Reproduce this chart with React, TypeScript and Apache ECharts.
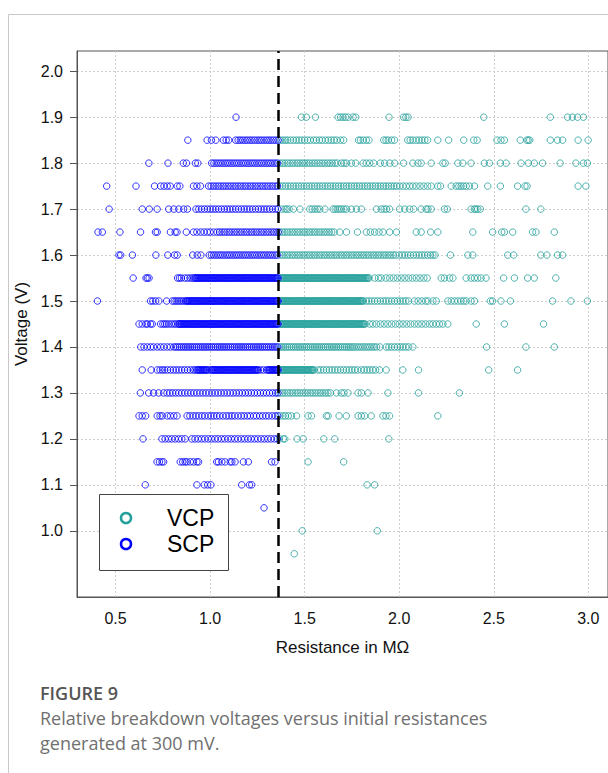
import React, { useEffect, useRef } from "react";
import * as echarts from "echarts";

// ---------- tick labels / constants ----------
const xTicks = [0.5, 1.0, 1.5, 2.0, 2.5, 3.0];
const yTicks = [1.0, 1.1, 1.2, 1.3, 1.4, 1.5, 1.6, 1.7, 1.8, 1.9, 2.0];
const threshold = 1.36;
const seriesNames = ["VCP", "SCP"];
const xTitle = "Resistance in MΩ";
const yTitle = "Voltage (V)";
const captionTitle = "FIGURE 9";
const captionLines = [
  "Relative breakdown voltages versus initial resistances",
  "generated at 300 mV.",
];

// ---------- SCP (blue) resistances per voltage level ----------
const scp190 = [1.137];
const scp185 = [0.882, 0.984, 1.007, 1.03, 1.07, 1.085, 1.098, 1.135, 1.148, 1.16, 1.172, 1.185, 1.197, 1.21, 1.222, 1.235, 1.248, 1.26, 1.272, 1.285, 1.298, 1.31, 1.322, 1.335, 1.348, 1.36];
const scp180 = [0.676, 0.777, 0.858, 0.875, 0.922, 0.935, 1.008, 1.02, 1.032, 1.044, 1.056, 1.068, 1.08, 1.092, 1.104, 1.116, 1.128, 1.14, 1.152, 1.164, 1.176, 1.188, 1.2, 1.212, 1.224, 1.236, 1.248, 1.26, 1.272, 1.284, 1.296, 1.308, 1.32, 1.332, 1.344, 1.356];
const scp175 = [0.453, 0.608, 0.706, 0.738, 0.756, 0.773, 0.789, 0.826, 0.84, 0.912, 0.93, 0.949, 0.992, 1.005, 1.018, 1.031, 1.044, 1.057, 1.07, 1.083, 1.096, 1.109, 1.122, 1.135, 1.148, 1.161, 1.174, 1.187, 1.2, 1.213, 1.226, 1.239, 1.252, 1.265, 1.278, 1.291, 1.304, 1.317, 1.33, 1.343, 1.356];
const scp170 = [0.466, 0.641, 0.678, 0.72, 0.781, 0.808, 0.834, 0.86, 0.88, 0.925, 0.94, 0.955, 0.97, 0.985, 1.0, 1.015, 1.03, 1.045, 1.06, 1.075, 1.09, 1.105, 1.12, 1.135, 1.15, 1.165, 1.18, 1.195, 1.21, 1.225, 1.24, 1.255, 1.27, 1.285, 1.3, 1.315, 1.33, 1.345, 1.358];
const scp165 = [0.407, 0.43, 0.523, 0.632, 0.711, 0.72, 0.79, 0.815, 0.825, 0.874, 0.912, 0.93, 0.95, 0.968, 0.985, 1.0, 1.019, 1.037, 1.05, 1.063, 1.076, 1.089, 1.102, 1.115, 1.128, 1.141, 1.154, 1.167, 1.18, 1.193, 1.206, 1.219, 1.232, 1.245, 1.258, 1.271, 1.284, 1.297, 1.31, 1.323, 1.336, 1.349, 1.36];
const scp160 = [0.518, 0.527, 0.589, 0.713, 0.776, 0.812, 0.826, 0.908, 0.932, 0.951, 0.995, 1.007, 1.019, 1.031, 1.043, 1.055, 1.067, 1.079, 1.091, 1.103, 1.115, 1.127, 1.139, 1.151, 1.163, 1.175, 1.187, 1.199, 1.211, 1.223, 1.235, 1.247, 1.259, 1.271, 1.283, 1.295, 1.307, 1.319, 1.331, 1.343, 1.355];
const scp155 = [0.593, 0.661, 0.668, 0.677, 0.828, 0.838, 0.848, 0.866, 0.88, 0.893, 0.905, 0.915, 0.92, 0.925, 0.93, 0.935, 0.94, 0.945, 0.95, 0.955, 0.96, 0.965, 0.97, 0.975, 0.98, 0.985, 0.99, 0.995, 1.0, 1.005, 1.01, 1.015, 1.02, 1.025, 1.03, 1.035, 1.04, 1.045, 1.05, 1.055, 1.06, 1.065, 1.07, 1.075, 1.08, 1.085, 1.09, 1.095, 1.1, 1.105, 1.11, 1.115, 1.12, 1.125, 1.13, 1.135, 1.14, 1.145, 1.15, 1.155, 1.16, 1.165, 1.17, 1.175, 1.18, 1.185, 1.19, 1.195, 1.2, 1.205, 1.21, 1.215, 1.22, 1.225, 1.23, 1.235, 1.24, 1.245, 1.25, 1.255, 1.26, 1.265, 1.27, 1.275, 1.28, 1.285, 1.29, 1.295, 1.3, 1.305, 1.31, 1.315, 1.32, 1.325, 1.33, 1.335, 1.34, 1.345, 1.35, 1.355, 1.36];
const scp150 = [0.404, 0.685, 0.697, 0.712, 0.729, 0.77, 0.8, 0.81, 0.82, 0.83, 0.84, 0.85, 0.86, 0.87, 0.875, 0.88, 0.885, 0.89, 0.895, 0.9, 0.905, 0.91, 0.915, 0.92, 0.925, 0.93, 0.935, 0.94, 0.945, 0.95, 0.955, 0.96, 0.965, 0.97, 0.975, 0.98, 0.985, 0.99, 0.995, 1.0, 1.005, 1.01, 1.015, 1.02, 1.025, 1.03, 1.035, 1.04, 1.045, 1.05, 1.055, 1.06, 1.065, 1.07, 1.075, 1.08, 1.085, 1.09, 1.095, 1.1, 1.105, 1.11, 1.115, 1.12, 1.125, 1.13, 1.135, 1.14, 1.145, 1.15, 1.155, 1.16, 1.165, 1.17, 1.175, 1.18, 1.185, 1.19, 1.195, 1.2, 1.205, 1.21, 1.215, 1.22, 1.225, 1.23, 1.235, 1.24, 1.245, 1.25, 1.255, 1.26, 1.265, 1.27, 1.275, 1.28, 1.285, 1.29, 1.295, 1.3, 1.305, 1.31, 1.315, 1.32, 1.325, 1.33, 1.335, 1.34, 1.345, 1.35, 1.355, 1.36];
const scp145 = [0.624, 0.641, 0.66, 0.668, 0.685, 0.694, 0.738, 0.75, 0.76, 0.77, 0.782, 0.795, 0.808, 0.818, 0.83, 0.835, 0.84, 0.845, 0.85, 0.855, 0.86, 0.865, 0.87, 0.875, 0.88, 0.885, 0.89, 0.895, 0.9, 0.905, 0.91, 0.915, 0.92, 0.925, 0.93, 0.935, 0.94, 0.945, 0.95, 0.955, 0.96, 0.965, 0.97, 0.975, 0.98, 0.985, 0.99, 0.995, 1.0, 1.005, 1.01, 1.015, 1.02, 1.025, 1.03, 1.035, 1.04, 1.045, 1.05, 1.055, 1.06, 1.065, 1.07, 1.075, 1.08, 1.085, 1.09, 1.095, 1.1, 1.105, 1.11, 1.115, 1.12, 1.125, 1.13, 1.135, 1.14, 1.145, 1.15, 1.155, 1.16, 1.165, 1.17, 1.175, 1.18, 1.185, 1.19, 1.195, 1.2, 1.205, 1.21, 1.215, 1.22, 1.225, 1.23, 1.235, 1.24, 1.245, 1.25, 1.255, 1.26, 1.265, 1.27, 1.275, 1.28, 1.285, 1.29, 1.295, 1.3, 1.305, 1.31, 1.315, 1.32, 1.325, 1.33, 1.335, 1.34, 1.345, 1.35, 1.355, 1.36];
const scp140 = [0.633, 0.65, 0.668, 0.685, 0.7, 0.72, 0.738, 0.755, 0.773, 0.79, 0.808, 0.818, 0.828, 0.838, 0.848, 0.858, 0.868, 0.878, 0.888, 0.898, 0.908, 0.918, 0.928, 0.938, 0.948, 0.958, 0.968, 0.978, 0.988, 0.998, 1.008, 1.018, 1.028, 1.038, 1.048, 1.058, 1.068, 1.078, 1.088, 1.098, 1.108, 1.118, 1.128, 1.138, 1.148, 1.158, 1.168, 1.178, 1.188, 1.198, 1.208, 1.218, 1.228, 1.238, 1.248, 1.258, 1.268, 1.278, 1.288, 1.298, 1.308, 1.318, 1.328, 1.338, 1.348, 1.358];
const scp135 = [0.641, 0.688, 0.72, 0.735, 0.748, 0.76, 0.775, 0.79, 0.805, 0.82, 0.835, 0.85, 0.865, 0.88, 0.895, 0.91, 0.92, 0.93, 0.935, 0.94, 0.945, 0.95, 0.955, 0.96, 0.965, 0.97, 0.975, 0.98, 0.985, 0.995, 1.005, 1.01, 1.015, 1.02, 1.025, 1.03, 1.035, 1.04, 1.045, 1.05, 1.055, 1.06, 1.065, 1.07, 1.075, 1.08, 1.085, 1.09, 1.095, 1.1, 1.105, 1.11, 1.115, 1.12, 1.125, 1.13, 1.135, 1.14, 1.145, 1.15, 1.155, 1.16, 1.165, 1.17, 1.175, 1.18, 1.185, 1.19, 1.195, 1.2, 1.205, 1.21, 1.215, 1.22, 1.225, 1.23, 1.235, 1.24, 1.245, 1.25, 1.255, 1.268, 1.283, 1.298, 1.305, 1.31, 1.315, 1.32, 1.325, 1.33, 1.335, 1.34, 1.345, 1.35, 1.355, 1.36];
const scp130 = [0.631, 0.675, 0.701, 0.728, 0.754, 0.772, 0.787, 0.802, 0.818, 0.834, 0.85, 0.866, 0.882, 0.898, 0.914, 0.93, 0.946, 0.962, 0.978, 0.994, 1.01, 1.026, 1.042, 1.058, 1.074, 1.09, 1.106, 1.122, 1.138, 1.154, 1.17, 1.186, 1.202, 1.218, 1.234, 1.25, 1.266, 1.282, 1.298, 1.314, 1.33, 1.346, 1.358];
const scp125 = [0.624, 0.641, 0.659, 0.72, 0.735, 0.747, 0.773, 0.79, 0.808, 0.825, 0.878, 0.893, 0.91, 0.925, 0.94, 0.957, 0.972, 0.99, 1.005, 1.02, 1.035, 1.05, 1.068, 1.085, 1.1, 1.115, 1.13, 1.148, 1.165, 1.18, 1.197, 1.212, 1.23, 1.245, 1.262, 1.278, 1.295, 1.31, 1.328, 1.345, 1.358];
const scp120 = [0.645, 0.745, 0.762, 0.78, 0.797, 0.815, 0.833, 0.85, 0.868, 0.903, 0.92, 0.937, 0.955, 0.972, 0.99, 1.007, 1.025, 1.042, 1.06, 1.077, 1.095, 1.112, 1.13, 1.147, 1.165, 1.182, 1.2, 1.217, 1.235, 1.252, 1.27, 1.287, 1.305, 1.322, 1.34, 1.355];
const scp115 = [0.719, 0.732, 0.745, 0.754, 0.842, 0.855, 0.868, 0.877, 0.895, 0.912, 0.93, 0.939, 1.035, 1.044, 1.062, 1.08, 1.106, 1.115, 1.132, 1.176, 1.202, 1.325, 1.343];
const scp110 = [0.657, 0.93, 0.969, 0.987, 1.004, 1.167, 1.208, 1.22];
const scp105 = [1.285];

// ---------- VCP (teal) resistances per voltage level ----------
const vcp190 = [1.483, 1.509, 1.557, 1.677, 1.69, 1.703, 1.716, 1.73, 1.756, 1.77, 1.946, 2.023, 2.035, 2.047, 2.447, 2.799, 2.89, 2.916, 2.943, 2.974];
const vcp185 = [1.372, 1.385, 1.398, 1.41, 1.425, 1.44, 1.455, 1.47, 1.485, 1.5, 1.515, 1.53, 1.548, 1.562, 1.578, 1.592, 1.61, 1.625, 1.64, 1.655, 1.67, 1.69, 1.706, 1.785, 1.795, 1.81, 1.826, 1.84, 1.918, 1.93, 1.942, 1.96, 1.975, 2.045, 2.058, 2.072, 2.09, 2.105, 2.12, 2.135, 2.15, 2.204, 2.261, 2.341, 2.394, 2.412, 2.517, 2.538, 2.556, 2.64, 2.675, 2.682, 2.69, 2.799, 2.837, 2.864, 2.946, 2.999];
const vcp180 = [1.37, 1.383, 1.396, 1.41, 1.423, 1.436, 1.449, 1.462, 1.475, 1.488, 1.5, 1.513, 1.526, 1.54, 1.553, 1.566, 1.58, 1.593, 1.606, 1.62, 1.633, 1.646, 1.66, 1.672, 1.694, 1.708, 1.721, 1.747, 1.77, 1.809, 1.826, 1.844, 1.865, 1.9, 1.923, 1.95, 1.976, 2.023, 2.072, 2.099, 2.116, 2.169, 2.231, 2.243, 2.31, 2.336, 2.38, 2.45, 2.477, 2.535, 2.565, 2.644, 2.683, 2.714, 2.758, 2.851, 2.934, 2.974, 2.995];
const vcp175 = [1.37, 1.384, 1.398, 1.412, 1.426, 1.44, 1.454, 1.468, 1.482, 1.496, 1.51, 1.524, 1.538, 1.552, 1.566, 1.58, 1.594, 1.608, 1.622, 1.636, 1.65, 1.664, 1.678, 1.692, 1.706, 1.72, 1.734, 1.748, 1.762, 1.776, 1.79, 1.804, 1.818, 1.832, 1.846, 1.86, 1.874, 1.888, 1.902, 1.916, 1.93, 1.944, 1.958, 1.972, 1.986, 2.002, 2.02, 2.037, 2.055, 2.072, 2.09, 2.11, 2.13, 2.15, 2.169, 2.204, 2.218, 2.275, 2.301, 2.315, 2.327, 2.34, 2.354, 2.371, 2.398, 2.468, 2.535, 2.626, 2.665, 2.676, 2.946, 2.987];
const vcp170 = [1.378, 1.396, 1.405, 1.418, 1.44, 1.475, 1.527, 1.54, 1.554, 1.567, 1.58, 1.607, 1.65, 1.661, 1.672, 1.683, 1.694, 1.708, 1.721, 1.747, 1.774, 1.8, 1.879, 1.905, 1.92, 1.932, 1.949, 2.002, 2.029, 2.055, 2.076, 2.116, 2.143, 2.152, 2.169, 2.239, 2.254, 2.38, 2.398, 2.405, 2.415, 2.429, 2.67, 2.749];
const vcp165 = [1.37, 1.383, 1.396, 1.409, 1.422, 1.435, 1.448, 1.461, 1.474, 1.487, 1.5, 1.513, 1.526, 1.539, 1.552, 1.565, 1.578, 1.591, 1.604, 1.617, 1.63, 1.643, 1.656, 1.686, 1.721, 1.779, 1.826, 1.847, 1.87, 1.893, 1.914, 1.949, 1.985, 2.09, 2.116, 2.166, 2.204, 2.389, 2.494, 2.542, 2.556, 2.6, 2.705, 2.723, 2.82];
const vcp160 = [1.37, 1.383, 1.396, 1.409, 1.422, 1.435, 1.448, 1.461, 1.474, 1.487, 1.5, 1.513, 1.526, 1.539, 1.552, 1.565, 1.578, 1.591, 1.604, 1.617, 1.63, 1.643, 1.656, 1.669, 1.682, 1.695, 1.708, 1.721, 1.734, 1.747, 1.76, 1.773, 1.786, 1.799, 1.812, 1.825, 1.838, 1.851, 1.864, 1.877, 1.89, 1.903, 1.916, 1.929, 1.942, 1.955, 1.968, 1.981, 2.0, 2.016, 2.03, 2.046, 2.06, 2.075, 2.09, 2.105, 2.12, 2.135, 2.15, 2.165, 2.178, 2.19, 2.271, 2.363, 2.389, 2.574, 2.605, 2.749, 2.781, 2.837, 2.864];
const vcp155 = [1.37, 1.375, 1.38, 1.385, 1.39, 1.395, 1.4, 1.405, 1.41, 1.415, 1.42, 1.425, 1.43, 1.435, 1.44, 1.445, 1.45, 1.455, 1.46, 1.465, 1.47, 1.475, 1.48, 1.485, 1.49, 1.495, 1.5, 1.505, 1.51, 1.515, 1.52, 1.525, 1.53, 1.535, 1.54, 1.545, 1.55, 1.555, 1.56, 1.565, 1.57, 1.575, 1.58, 1.585, 1.59, 1.595, 1.6, 1.605, 1.61, 1.615, 1.62, 1.625, 1.63, 1.635, 1.64, 1.645, 1.65, 1.655, 1.66, 1.665, 1.67, 1.675, 1.68, 1.685, 1.69, 1.695, 1.7, 1.705, 1.71, 1.715, 1.72, 1.725, 1.73, 1.735, 1.74, 1.745, 1.75, 1.755, 1.76, 1.765, 1.77, 1.775, 1.78, 1.785, 1.79, 1.795, 1.8, 1.805, 1.81, 1.815, 1.82, 1.825, 1.83, 1.835, 1.84, 1.87, 1.89, 1.905, 1.93, 1.95, 1.97, 1.99, 2.01, 2.03, 2.05, 2.07, 2.09, 2.11, 2.13, 2.148, 2.222, 2.239, 2.266, 2.284, 2.354, 2.38, 2.398, 2.415, 2.433, 2.459, 2.552, 2.609, 2.679, 2.714, 2.828];
const vcp150 = [1.37, 1.375, 1.38, 1.385, 1.39, 1.395, 1.4, 1.405, 1.41, 1.415, 1.42, 1.425, 1.43, 1.435, 1.44, 1.445, 1.45, 1.455, 1.46, 1.465, 1.47, 1.475, 1.48, 1.485, 1.49, 1.495, 1.5, 1.505, 1.51, 1.515, 1.52, 1.525, 1.53, 1.535, 1.54, 1.545, 1.55, 1.555, 1.56, 1.565, 1.57, 1.575, 1.58, 1.585, 1.59, 1.595, 1.6, 1.605, 1.61, 1.615, 1.62, 1.625, 1.63, 1.635, 1.64, 1.645, 1.65, 1.655, 1.66, 1.665, 1.67, 1.675, 1.68, 1.685, 1.69, 1.695, 1.7, 1.705, 1.71, 1.715, 1.72, 1.725, 1.73, 1.735, 1.74, 1.745, 1.75, 1.755, 1.76, 1.765, 1.77, 1.775, 1.78, 1.785, 1.79, 1.795, 1.8, 1.805, 1.81, 1.826, 1.84, 1.855, 1.87, 1.885, 1.9, 1.915, 1.93, 1.945, 1.96, 1.975, 1.99, 2.005, 2.02, 2.035, 2.05, 2.08, 2.1, 2.12, 2.14, 2.152, 2.178, 2.196, 2.257, 2.275, 2.292, 2.31, 2.327, 2.341, 2.354, 2.38, 2.398, 2.482, 2.494, 2.538, 2.588, 2.811, 2.908, 2.995];
const vcp145 = [1.37, 1.375, 1.38, 1.385, 1.39, 1.395, 1.4, 1.405, 1.41, 1.415, 1.42, 1.425, 1.43, 1.435, 1.44, 1.445, 1.45, 1.455, 1.46, 1.465, 1.47, 1.475, 1.48, 1.485, 1.49, 1.495, 1.5, 1.505, 1.51, 1.515, 1.52, 1.525, 1.53, 1.535, 1.54, 1.545, 1.55, 1.555, 1.56, 1.565, 1.57, 1.575, 1.58, 1.585, 1.59, 1.595, 1.6, 1.605, 1.61, 1.615, 1.62, 1.625, 1.63, 1.635, 1.64, 1.645, 1.65, 1.655, 1.66, 1.665, 1.67, 1.675, 1.68, 1.685, 1.69, 1.695, 1.7, 1.705, 1.71, 1.715, 1.72, 1.725, 1.73, 1.735, 1.74, 1.745, 1.75, 1.755, 1.76, 1.765, 1.77, 1.775, 1.78, 1.785, 1.79, 1.795, 1.8, 1.805, 1.81, 1.815, 1.82, 1.843, 1.86, 1.879, 1.9, 1.92, 1.94, 1.96, 1.98, 2.0, 2.02, 2.04, 2.06, 2.08, 2.1, 2.12, 2.14, 2.16, 2.178, 2.196, 2.213, 2.231, 2.257, 2.407, 2.556, 2.763];
const vcp140 = [1.37, 1.38, 1.39, 1.4, 1.41, 1.42, 1.43, 1.44, 1.45, 1.46, 1.47, 1.48, 1.49, 1.5, 1.51, 1.52, 1.53, 1.54, 1.55, 1.56, 1.57, 1.58, 1.59, 1.6, 1.61, 1.62, 1.63, 1.64, 1.65, 1.66, 1.67, 1.68, 1.69, 1.7, 1.71, 1.72, 1.73, 1.74, 1.75, 1.76, 1.772, 1.784, 1.796, 1.808, 1.82, 1.832, 1.844, 1.856, 1.868, 1.88, 1.898, 1.931, 1.945, 1.96, 1.975, 1.99, 2.005, 2.02, 2.035, 2.05, 2.072, 2.462, 2.67, 2.82];
const vcp135 = [1.37, 1.375, 1.38, 1.385, 1.39, 1.395, 1.4, 1.405, 1.41, 1.415, 1.42, 1.425, 1.43, 1.435, 1.44, 1.445, 1.45, 1.455, 1.46, 1.465, 1.47, 1.475, 1.48, 1.485, 1.49, 1.495, 1.5, 1.505, 1.51, 1.515, 1.52, 1.525, 1.53, 1.535, 1.54, 1.545, 1.55, 1.571, 1.585, 1.6, 1.615, 1.63, 1.645, 1.66, 1.675, 1.69, 1.705, 1.72, 1.735, 1.75, 1.765, 1.78, 1.8, 1.815, 1.83, 1.845, 1.86, 1.875, 1.896, 1.931, 2.019, 2.102, 2.473, 2.626];
const vcp130 = [1.37, 1.383, 1.396, 1.41, 1.423, 1.436, 1.45, 1.463, 1.476, 1.49, 1.503, 1.516, 1.53, 1.543, 1.556, 1.57, 1.583, 1.596, 1.61, 1.623, 1.636, 1.668, 1.694, 1.708, 1.729, 1.782, 1.8, 1.835, 1.94, 2.102, 2.318];
const vcp125 = [1.37, 1.386, 1.398, 1.413, 1.43, 1.457, 1.518, 1.536, 1.615, 1.624, 1.682, 1.72, 1.782, 1.8, 1.817, 1.852, 1.914, 1.93, 1.949, 2.204];
const vcp120 = [1.366, 1.387, 1.395, 1.46, 1.492, 1.601, 1.659, 1.945];
const vcp115 = [1.518, 1.706];
const vcp110 = [1.83, 1.87];
const vcp100 = [1.487, 1.884];
const vcp095 = [1.445];

const scpLevels: [number, number[]][] = [
  [1.9, scp190], [1.85, scp185], [1.8, scp180], [1.75, scp175], [1.7, scp170],
  [1.65, scp165], [1.6, scp160], [1.55, scp155], [1.5, scp150], [1.45, scp145],
  [1.4, scp140], [1.35, scp135], [1.3, scp130], [1.25, scp125], [1.2, scp120],
  [1.15, scp115], [1.1, scp110], [1.05, scp105],
];
const vcpLevels: [number, number[]][] = [
  [1.9, vcp190], [1.85, vcp185], [1.8, vcp180], [1.75, vcp175], [1.7, vcp170],
  [1.65, vcp165], [1.6, vcp160], [1.55, vcp155], [1.5, vcp150], [1.45, vcp145],
  [1.4, vcp140], [1.35, vcp135], [1.3, vcp130], [1.25, vcp125], [1.2, vcp120],
  [1.15, vcp115], [1.1, vcp110], [1.0, vcp100], [0.95, vcp095],
];

const toPoints = (levels: [number, number[]][]) =>
  levels.flatMap(([v, xs]) => xs.map((x) => [x, v]));

const TEAL = "#23a09b";
const BLUE = "#0000ff";
const FONT = "Liberation Sans";
const CAPTION_FONT = "Open Sans";

export default function App() {
  const ref = useRef<HTMLDivElement>(null);

  useEffect(() => {
    document.body.style.margin = "0";
    if (!ref.current) return;
    const chart = echarts.init(ref.current, undefined, { renderer: "svg" });

    const option: any = {
      animation: false,
      backgroundColor: "#ffffff",
      grid: {
        left: 77,
        top: 51,
        width: 533,
        height: 546,
        show: true,
        borderColor: "#555",
        borderWidth: 1,
        backgroundColor: "rgba(0,0,0,0)",
      },
      xAxis: {
        type: "value",
        min: 0.296,
        max: 3.104,
        name: xTitle,
        nameLocation: "middle",
        nameGap: 42,
        nameTextStyle: { fontFamily: FONT, fontSize: 17, color: "#111" },
        axisLine: { show: true, lineStyle: { color: "#555", width: 1 } },
        axisTick: { show: false, customValues: xTicks },
        axisLabel: {
          customValues: xTicks,
          formatter: (v: number) => v.toFixed(1),
          fontFamily: FONT,
          fontSize: 16,
          color: "#111",
          margin: 13,
        },
        splitLine: {
          show: true,
          lineStyle: { color: "#cfcfcf", width: 1, type: [2, 2] },
        },
      },
      yAxis: {
        type: "value",
        min: 0.856,
        max: 2.044,
        name: yTitle,
        nameLocation: "middle",
        nameGap: 41,
        nameTextStyle: { fontFamily: FONT, fontSize: 17, color: "#111" },
        axisLine: { show: true, lineStyle: { color: "#555", width: 1 } },
        axisTick: {
          show: true,
          length: 7,
          customValues: yTicks,
          lineStyle: { color: "#555", width: 1 },
        },
        axisLabel: {
          customValues: yTicks,
          formatter: (v: number) => v.toFixed(1),
          fontFamily: FONT,
          fontSize: 16,
          color: "#111",
          margin: 14,
        },
        splitLine: {
          show: true,
          lineStyle: { color: "#cfcfcf", width: 1, type: [2, 2] },
        },
      },
      series: [
        {
          name: seriesNames[0],
          type: "scatter",
          symbol: "circle",
          symbolSize: 6.5,
          data: toPoints(vcpLevels),
          itemStyle: { color: "rgba(0,0,0,0)", borderColor: TEAL, borderWidth: 1 },
          silent: true,
        },
        {
          name: seriesNames[1],
          type: "scatter",
          symbol: "circle",
          symbolSize: 6.5,
          data: toPoints(scpLevels),
          itemStyle: { color: "rgba(0,0,0,0)", borderColor: BLUE, borderWidth: 1 },
          silent: true,
          markLine: {
            silent: true,
            symbol: ["none", "none"],
            label: { show: false },
            lineStyle: { color: "#000", width: 2.5, type: [11, 6] },
            data: [{ xAxis: threshold }],
          },
        },
      ],
      graphic: [
        {
          type: "rect",
          z: -1,
          shape: { x: 8.5, y: 14.5, width: 800, height: 900 },
          style: { fill: "none", stroke: "#c8c8c8", lineWidth: 1 },
        },
        {
          type: "rect",
          z: 100,
          shape: { x: 99.5, y: 494.5, width: 129, height: 76 },
          style: { fill: "#fff", stroke: "#444", lineWidth: 1 },
        },
        {
          type: "circle",
          z: 101,
          shape: { cx: 126, cy: 518, r: 5 },
          style: { fill: "none", stroke: TEAL, lineWidth: 2.5 },
        },
        {
          type: "circle",
          z: 101,
          shape: { cx: 126, cy: 544, r: 5 },
          style: { fill: "none", stroke: BLUE, lineWidth: 2.5 },
        },
        {
          type: "text",
          z: 101,
          x: 167,
          y: 518,
          style: {
            text: seriesNames[0],
            fontFamily: FONT,
            fontSize: 23,
            fill: "#000",
            verticalAlign: "middle",
          },
        },
        {
          type: "text",
          z: 101,
          x: 167,
          y: 544,
          style: {
            text: seriesNames[1],
            fontFamily: FONT,
            fontSize: 23,
            fill: "#000",
            verticalAlign: "middle",
          },
        },
        {
          type: "text",
          x: 40,
          y: 693,
          style: {
            text: captionTitle,
            fontFamily: CAPTION_FONT,
            fontSize: 18,
            fontWeight: 600,
            fill: "#555",
            verticalAlign: "middle",
          },
        },
        {
          type: "text",
          x: 40,
          y: 718,
          style: {
            text: captionLines[0],
            fontFamily: CAPTION_FONT,
            fontSize: 18,
            fill: "#707070",
            verticalAlign: "middle",
          },
        },
        {
          type: "text",
          x: 40,
          y: 743,
          style: {
            text: captionLines[1],
            fontFamily: CAPTION_FONT,
            fontSize: 18,
            fill: "#707070",
            verticalAlign: "middle",
          },
        },
      ],
    };

    chart.setOption(option);
    return () => chart.dispose();
  }, []);

  return <div ref={ref} style={{ width: 608, height: 773 }} />;
}
